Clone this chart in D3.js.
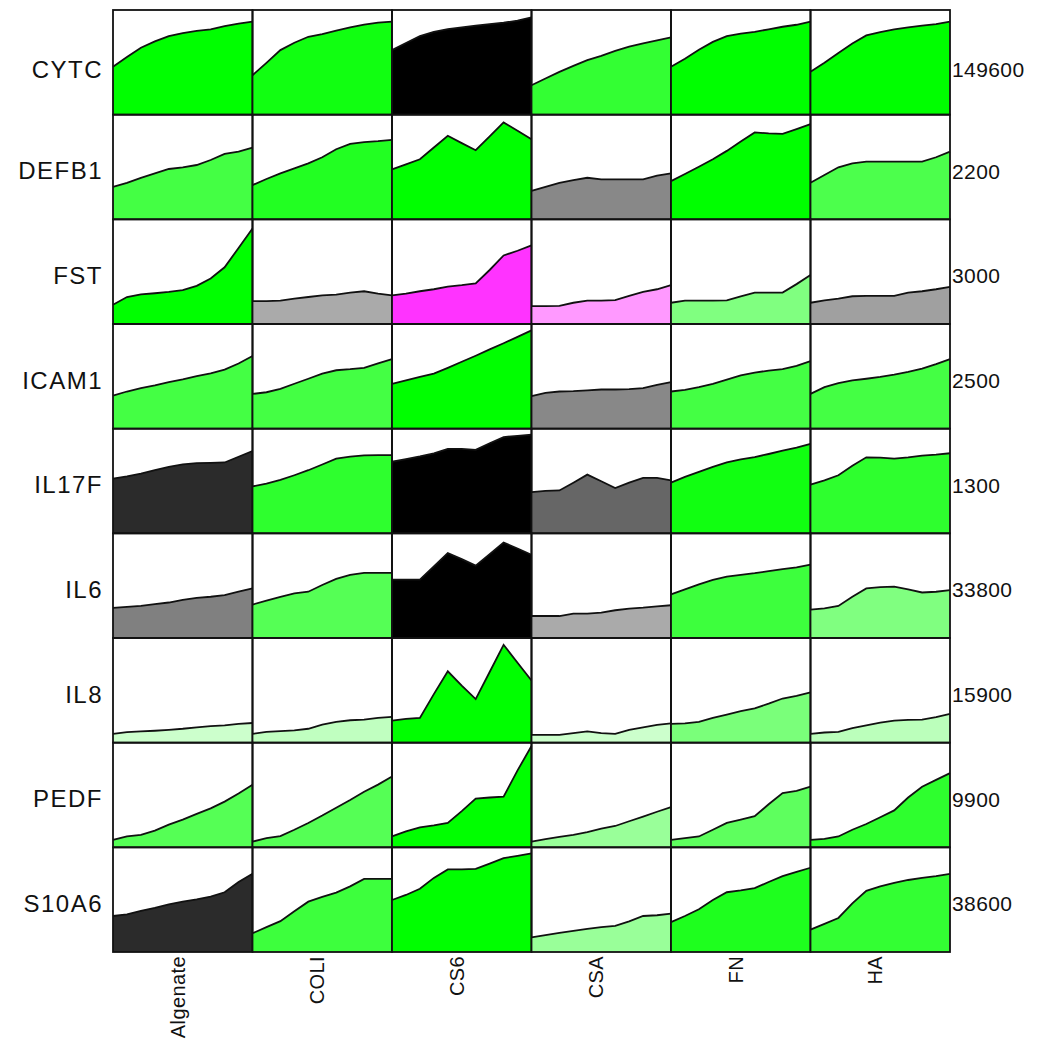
<!DOCTYPE html>
<html>
<head>
<meta charset="utf-8">
<script src="https://cdnjs.cloudflare.com/ajax/libs/d3/7.8.5/d3.min.js"></script>
<style>
  body { margin: 0; background: #fff; }
  svg text { font-family: "Liberation Sans", Arial, sans-serif; fill: #111; }
</style>
</head>
<body>
<svg id="chart"></svg>
<script>
// rows and columns of the grid
var genes = ["CYTC", "DEFB1", "FST", "ICAM1", "IL17F", "IL6", "IL8", "PEDF", "S10A6"];
var materials = ["Algenate", "COLI", "CS6", "CSA", "FN", "HA"];
var rowMax = ["149600", "2200", "3000", "2500", "1300", "33800", "15900", "9900", "38600"];
var timePoints = [0, 1, 2, 3, 4, 5, 6, 7, 8, 9, 10];

// level in % of row maximum, one series per material
var cytc = [
  [45.7, 55, 64, 70, 75, 78, 80, 81.5, 84.7, 87, 88.8],
  [37.7, 49.5, 61.7, 68.7, 74.4, 77, 80.2, 83.4, 86, 87.9, 88.8],
  [61.7, 68.5, 75, 79.2, 81.8, 83.4, 85, 86.6, 87.9, 89.8, 93],
  [28.1, 34.5, 40.9, 46.6, 52.1, 56.2, 61, 64.9, 68, 70.9, 73.8],
  [45.7, 53.5, 62, 69.5, 75, 77.5, 79.2, 81.5, 84, 85.9, 88.8],
  [40.9, 49.5, 59, 67.9, 75.7, 78.9, 81.5, 83.4, 85, 86.6, 88.8]
];
var defb1 = [
  [31.1, 34.9, 39.7, 43.9, 48.1, 49.7, 51.9, 56.7, 62.5, 64.7, 68.6],
  [32.7, 38.5, 43.9, 48.7, 53.5, 59.3, 67, 72.1, 73.7, 74.7, 76],
  [47.8, 52.6, 57.4, 68.6, 79.8, 72.8, 66, 79.2, 92.6, 84.6, 76.6],
  [27.2, 31.1, 34.9, 37.5, 39.7, 38.1, 38.1, 38.1, 38.1, 41.7, 43.9],
  [36.5, 43.3, 50.3, 57.4, 65.4, 74.4, 83, 82.1, 81.7, 86.2, 91],
  [34.9, 42.3, 49.7, 53.5, 55.1, 55.1, 55.1, 55.1, 55.1, 59.3, 64.7]
];
var fst = [
  [18.4, 25.8, 28.4, 29.4, 30.6, 32.3, 36.5, 43.5, 54.2, 72.6, 91.3],
  [21.9, 21.9, 22.3, 24.2, 25.8, 27.4, 28.1, 30, 31.3, 29, 27.4],
  [27.4, 29, 31.3, 33.2, 35.8, 37.1, 38.7, 51.6, 65.5, 70, 75.2],
  [17.1, 17.1, 17.4, 20.3, 22.3, 22.3, 22.9, 26.8, 30.6, 33.2, 37.1],
  [20.3, 22.3, 22.3, 22.3, 22.6, 26.5, 30, 30, 30, 38.1, 46.8],
  [20.3, 22.6, 24.2, 26.5, 26.8, 26.8, 26.8, 30, 31.3, 33.2, 35.5]
];
var icam1 = [
  [31.6, 35.5, 38.7, 41.3, 44.5, 47.1, 50.3, 52.9, 56.5, 62.3, 69.4],
  [33.2, 34.8, 38.1, 42.9, 47.7, 52.6, 55.8, 56.8, 58.1, 62.3, 66.5],
  [42.9, 46.1, 49.4, 52.6, 58.1, 63.9, 69.7, 75.8, 81.6, 87.7, 93.9],
  [31, 34.2, 35.5, 35.8, 36.5, 37.4, 37.4, 37.7, 38.7, 41.9, 44.5],
  [35.5, 37.1, 39.7, 42.9, 46.8, 51, 53.5, 55.5, 56.8, 60, 64.5],
  [33.2, 39.7, 43.5, 46.1, 47.7, 49.4, 51.6, 54.2, 57.4, 61.6, 66.5]
];
var il17f = [
  [52.3, 54.5, 57.1, 60.3, 63.5, 65.8, 67.1, 67.4, 67.7, 73.2, 78.7],
  [44.8, 47.4, 51, 55.5, 60.3, 65.8, 71.3, 73.2, 74.5, 74.8, 74.8],
  [68.4, 71, 73.5, 76.5, 80.6, 80.6, 79.7, 86.1, 91.9, 93.2, 94.2],
  [39.4, 40.6, 41, 48.4, 56.1, 49.7, 43.2, 48.4, 52.9, 52.9, 50.6],
  [48.4, 53.9, 58.7, 63.5, 67.7, 70.6, 72.9, 75.8, 79, 81.9, 85.5],
  [46.5, 50.6, 55.5, 64.5, 72.6, 72.3, 71.3, 72.6, 74.2, 75.2, 76.5]
];
var il6 = [
  [28.7, 29.7, 30.6, 32.3, 33.9, 36.5, 38.4, 39.4, 41, 44.2, 47.4],
  [31.9, 35.8, 39.4, 42.6, 44.2, 50.6, 56.5, 60.3, 62.3, 62.3, 62.3],
  [55.8, 55.8, 55.8, 68.5, 81.1, 75.4, 69.1, 80.1, 91.2, 85.5, 79.5],
  [21, 21, 21, 23.2, 23.2, 24.2, 26.5, 28.1, 29, 30.3, 31.3],
  [41.6, 46.5, 51.3, 55.5, 58.7, 60.3, 61.9, 63.9, 65.8, 67.4, 70],
  [27.1, 28.4, 30.6, 39.4, 47.4, 48.7, 49, 46.5, 43.5, 44.2, 45.8]
];
var il8 = [
  [8.4, 10.1, 10.7, 11.4, 12.3, 13.3, 14.6, 15.9, 16.6, 17.9, 18.8],
  [8.4, 10.4, 11, 11.7, 13.3, 17.2, 19.8, 21.4, 22.1, 23.7, 24.7],
  [21.1, 22.7, 23.7, 46.4, 68.2, 54.5, 41.6, 67.5, 93.5, 76.3, 59.4],
  [7.5, 7.5, 7.5, 9.1, 10.7, 9.1, 8.4, 12.3, 14.6, 16.9, 18.5],
  [17.9, 18.5, 19.8, 23.7, 26.9, 30.2, 32.8, 37.3, 42.2, 44.8, 48.1],
  [8.4, 9.7, 10.4, 14, 16.6, 19.2, 21.1, 21.8, 22.1, 24.4, 27.6]
];
var pedf = [
  [7.1, 10.4, 12, 15.9, 21.7, 26.5, 32, 37.2, 43.7, 51.5, 59.9],
  [5.5, 8.7, 10.7, 16.8, 23.3, 30.4, 37.9, 45.3, 53.1, 59.9, 67.6],
  [10.4, 15.2, 19.1, 21, 23.3, 34.6, 46.6, 47.6, 48.5, 73.5, 96.8],
  [5.5, 7.8, 10, 12, 14.6, 17.8, 20.4, 24.9, 29.4, 34, 38.5],
  [7.1, 8.7, 10.4, 16.8, 23.3, 26.5, 29.8, 41.1, 51.8, 54, 57.9],
  [7.1, 8.1, 10.4, 16.8, 22.3, 28.8, 35.3, 47.6, 57.9, 64.4, 70.9]
];
var s10a6 = [
  [34.4, 36, 39.3, 42.2, 45.5, 48.1, 50.3, 52.9, 57.1, 66.9, 74.7],
  [17.9, 23.7, 29.5, 39, 48.1, 52.6, 56.8, 62.7, 69.8, 69.8, 69.8],
  [49.7, 54.5, 60.4, 70.8, 78.9, 78.9, 79.5, 84.4, 89.6, 91.9, 94.2],
  [14, 16.2, 18.2, 20.1, 22.1, 23.7, 25, 29.2, 34.4, 35.1, 36.7],
  [28.6, 34.4, 40.9, 49.7, 57.1, 58.8, 61, 66.9, 72.4, 76.6, 80.5],
  [21.4, 26.9, 32.5, 46.4, 58.4, 62.7, 66, 68.8, 70.8, 72.4, 74.7]
];
var series = [cytc, defb1, fst, icam1, il17f, il6, il8, pedf, s10a6];

// cell fill colours (same layout as the series)
var fills = [
  ["#00ff00", "#11ff11", "#000000", "#33ff33", "#00ff00", "#00ff00"],
  ["#44ff44", "#22ff22", "#00ff00", "#888888", "#00ff00", "#4cff4c"],
  ["#00ff00", "#aaaaaa", "#ff33ff", "#ff99ff", "#80ff80", "#a0a0a0"],
  ["#44ff44", "#44ff44", "#00ff00", "#888888", "#44ff44", "#44ff44"],
  ["#2b2b2b", "#2eff2e", "#000000", "#666666", "#11ff11", "#2eff2e"],
  ["#808080", "#55ff55", "#000000", "#aaaaaa", "#3dff3d", "#80ff80"],
  ["#ccffcc", "#c0ffc0", "#00ff00", "#ccffcc", "#7aff7a", "#bbffbb"],
  ["#55ff55", "#55ff55", "#00ff00", "#99ff99", "#5eff5e", "#2eff2e"],
  ["#2b2b2b", "#3dff3d", "#00ff00", "#99ff99", "#1eff1e", "#33ff33"]
];

var width = 1038, height = 1048;
var gridLeft = 113, gridRight = 950, gridTop = 10, gridBottom = 952;

var svg = d3.select("#chart").attr("width", width).attr("height", height);

var col = d3.scaleBand().domain(materials).range([gridLeft, gridRight]);
var row = d3.scaleBand().domain(genes).range([gridTop, gridBottom]);
var cw = col.bandwidth(), ch = row.bandwidth();

var x = d3.scaleLinear().domain(d3.extent(timePoints)).range([0, cw]);
var y = d3.scaleLinear().domain([0, 100]).range([ch, 0]);

var area = d3.area()
  .x(function (d, i) { return x(timePoints[i]); })
  .y0(ch)
  .y1(function (d) { return y(d); });
var line = d3.line()
  .x(function (d, i) { return x(timePoints[i]); })
  .y(function (d) { return y(d); });

genes.forEach(function (gene, r) {
  materials.forEach(function (mat, c) {
    var g = svg.append("g")
      .attr("transform", "translate(" + col(mat) + "," + row(gene) + ")");
    var vals = series[r][c];
    g.append("path").attr("d", area(vals)).attr("fill", fills[r][c]);
    g.append("path").attr("d", line(vals))
      .attr("fill", "none").attr("stroke", "#111").attr("stroke-width", 1.8);
    g.append("rect").attr("width", cw).attr("height", ch)
      .attr("fill", "none").attr("stroke", "#111").attr("stroke-width", 1.8);
  });
});

// gene names on the left, row maxima on the right
svg.selectAll("text.gene").data(genes).enter().append("text")
  .attr("class", "gene")
  .attr("x", gridLeft - 10)
  .attr("y", function (d, i) { return row(d) + ch / 2 + (i === 0 ? 9 : 6); })
  .attr("text-anchor", "end")
  .attr("dominant-baseline", "middle")
  .style("font-size", "24px")
  .style("letter-spacing", "1.5px")
  .text(function (d) { return d; });

svg.selectAll("text.max").data(rowMax).enter().append("text")
  .attr("class", "max")
  .attr("x", gridRight + 2)
  .attr("y", function (d, i) { return row(genes[i]) + ch / 2 + (i === 0 ? 9 : 6); })
  .attr("dominant-baseline", "middle")
  .style("font-size", "21px")
  .style("letter-spacing", "0.4px")
  .text(function (d) { return d; });

// material names, rotated under each column
svg.selectAll("text.mat").data(materials).enter().append("text")
  .attr("class", "mat")
  .attr("transform", function (d) {
    return "translate(" + (col(d) + cw / 2 + 2) + "," + (gridBottom + 4) + ") rotate(-90)";
  })
  .attr("text-anchor", "end")
  .style("font-size", "20px")
  .style("letter-spacing", "0.4px")
  .text(function (d) { return d; });
</script>
</body>
</html>
